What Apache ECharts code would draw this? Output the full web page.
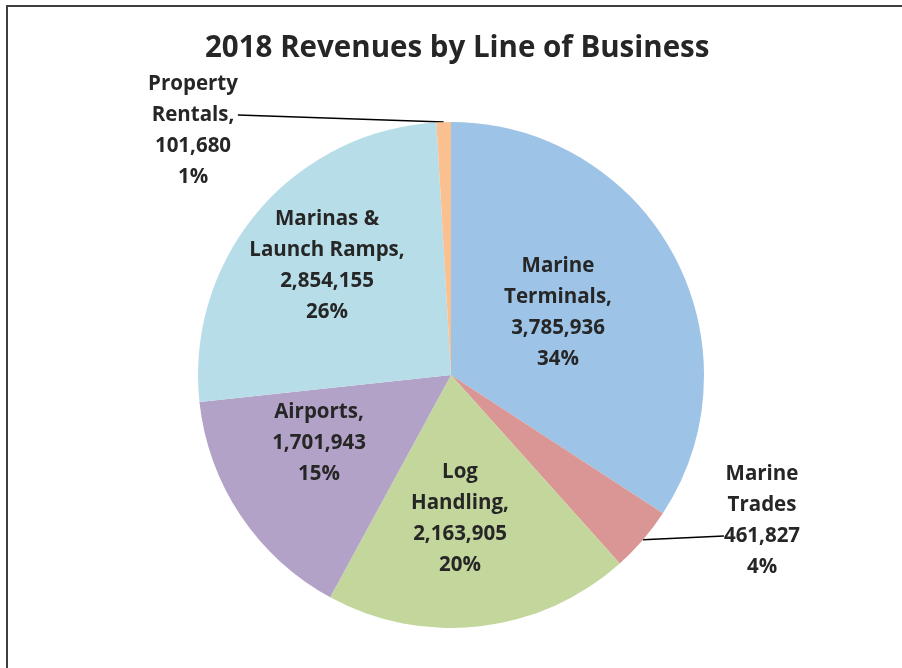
<!DOCTYPE html>
<html>
<head>
<meta charset="utf-8">
<script src="https://cdn.jsdelivr.net/npm/echarts@6/dist/echarts.min.js"></script>
<style>
    html, body { margin: 0; padding: 0; background: #fff; overflow: hidden; }
    #chart { width: 902px; height: 668px; }
    #frame {
        position: absolute; left: 6px; top: 5px;
        width: 1000px; height: 1000px;
        border: 2px solid #3f3f3f; pointer-events: none;
    }
</style>
</head>
<body>
<div id="chart"></div>
<div id="frame"></div>
<script>
    // data
    const categories = ['Marine Terminals', 'Marine Trades', 'Log Handling', 'Airports', 'Marinas & Launch Ramps', 'Property Rentals'];
    const labelNames = ['Marine\nTerminals,', 'Marine\nTrades', 'Log\nHandling,', 'Airports,', 'Marinas &\nLaunch Ramps,', 'Property\nRentals,'];
    const revenues = [3785936, 461827, 2163905, 1701943, 2854155, 101680];

    // styling
    const colors = ['#9dc3e6', '#d99694', '#c3d69b', '#b3a2c7', '#b7dee8', '#fac090'];
    const fontName = 'Open Sans';
    // label box centres; the outside labels get a blank line so the leader line hooks
    // onto the middle line of text like in the original
    const labelCenters = [[558, 313], [762, 536], [460, 519], [319, 443], [327, 266], [193, 115]];
    const blankTop = [false, false, false, false, false, true];
    const blankBottom = [false, true, false, false, false, false];
    const outsideIdx = [1, 5];

    const myChart = echarts.init(document.getElementById('chart'));

    const seriesData = categories.map((name, i) => {
        const outside = outsideIdx.indexOf(i) >= 0;
        return {
            name: name,
            value: revenues[i],
            itemStyle: { color: colors[i] },
            label: { position: outside ? 'outside' : 'inside' },
            labelLine: { show: outside }
        };
    });

    const option = {
        animation: false,
        title: {
            text: '2018 Revenues by Line of Business',
            left: 205,
            top: 34,
            padding: 0,
            textStyle: {
                fontFamily: fontName,
                fontWeight: 'bold',
                fontSize: 29.5,
                color: '#262626'
            }
        },
        series: [
            {
                type: 'pie',
                center: [451, 375],
                radius: 253,
                startAngle: 90,
                clockwise: true,
                avoidLabelOverlap: false,
                label: {
                    show: true,
                    fontFamily: fontName,
                    fontWeight: 'bold',
                    fontSize: 20.5,
                    lineHeight: 31,
                    color: '#262626',
                    align: 'center',
                    formatter: p => (blankTop[p.dataIndex] ? ' \n' : '') +
                        labelNames[p.dataIndex] + '\n' +
                        p.value.toLocaleString('en-US') + '\n' +
                        Math.round(p.percent) + '%' +
                        (blankBottom[p.dataIndex] ? '\n ' : '')
                },
                labelLine: {
                    length: 0,
                    length2: 0,
                    lineStyle: { color: '#000', width: 1.5 }
                },
                labelLayout: function (params) {
                    const c = labelCenters[params.dataIndex];
                    return { x: c[0], y: c[1], align: 'center', verticalAlign: 'middle' };
                },
                emphasis: { disabled: true },
                data: seriesData
            }
        ]
    };

    option && myChart.setOption(option);
</script>
</body>
</html>
